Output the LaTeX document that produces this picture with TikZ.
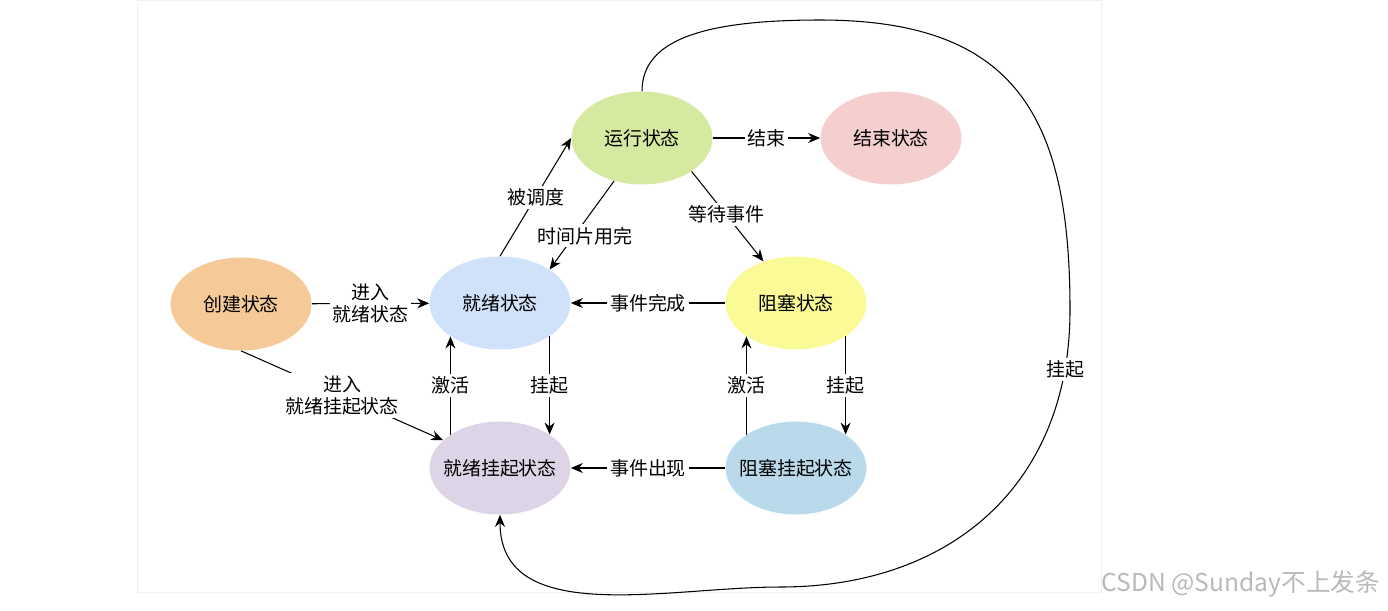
\documentclass[tikz,border=0pt]{standalone}
\usepackage{fontspec}
\setmainfont{Noto Sans CJK SC}
\usetikzlibrary{arrows.meta,positioning,shapes.geometric}
\definecolor{newcolor}{RGB}{245,202,152}
\definecolor{runcolor}{RGB}{214,233,160}
\definecolor{donecolor}{RGB}{245,206,206}
\definecolor{rdycolor}{RGB}{207,226,250}
\definecolor{blkcolor}{RGB}{250,250,150}
\definecolor{rsuscolor}{RGB}{221,213,231}
\definecolor{bsuscolor}{RGB}{186,218,236}
\newcommand{\stname}[1]{\makebox[0pt]{#1}}

\begin{document}
\begin{tikzpicture}[x=0.02cm, y=0.02cm,
  state/.style={ellipse, minimum width=2.82cm, minimum height=1.86cm, inner sep=0pt,
    font=\fontsize{10.8}{13}\selectfont},
  lbl/.style={fill=white, inner sep=1.5pt, align=center,
    font=\fontsize{10.8}{13}\selectfont},
  trans/.style={-{Stealth[length=2.4mm,width=2mm]}, line width=0.6pt}]
  % 1px = 0.02cm, y runs downwards as negative numbers
  \useasboundingbox (0,0) rectangle (1388,-610);

  % faint frame
  \draw[gray!12, thin] (137,0) rectangle (1101,-592);

  % States
  \node[state, fill=runcolor]  (run)  at (642,-138) {\stname{运行状态}};
  \node[state, fill=donecolor] (done) at (891,-138) {\stname{结束状态}};
  \node[state, fill=newcolor]  (new)  at (241,-304) {\stname{创建状态}};
  \node[state, fill=rdycolor]  (rdy)  at (500,-303) {\stname{就绪状态}};
  \node[state, fill=blkcolor]  (blk)  at (796,-303) {\stname{阻塞状态}};
  \node[state, fill=rsuscolor] (rsus) at (500,-468) {\stname{就绪挂起状态}};
  \node[state, fill=bsuscolor] (bsus) at (796,-468) {\stname{阻塞挂起状态}};

  % Transitions
  \draw[trans] (run) -- node[lbl] {结束} (done);
  \draw[trans] (rdy.north) -- node[lbl] {被调度} (run.west);
  \draw[trans] (run.237) -- node[lbl, pos=0.62, xshift=6pt] {时间片用完} (rdy.34);
  \draw[trans] (run.-34) -- node[lbl, pos=0.48] {等待事件} (blk.128);
  \draw[trans] (blk) -- node[lbl] {事件完成} (rdy);
  \draw[trans] (new) -- node[lbl] {进入\\就绪状态} (rdy);
  \draw[trans] (new.south) -- node[lbl] {进入\\就绪挂起状态} (rsus.154);
  \draw[trans] (rsus.146) -- node[lbl] {激活} (rdy.214);
  \draw[trans] (rdy.-34) -- node[lbl] {挂起} (rsus.34);
  \draw[trans] (bsus.146) -- node[lbl] {激活} (blk.214);
  \draw[trans] (blk.-34) -- node[lbl] {挂起} (bsus.34);
  \draw[trans] (bsus) -- node[lbl] {事件出现} (rsus);

  % long way round: running -> ready suspended
  \draw[trans] (run.north) .. controls +(0,50) and +(-120,0) .. (820,-20)
    to[out=0, in=90, looseness=1.3] (1070,-310)
    to[out=-90, in=0, looseness=1.1] node[lbl, pos=0.12] {挂起} (780,-587)
    to[out=180, in=-90] (rsus.south);

  % watermark
  \node[gray!55, anchor=east, font=\fontsize{14}{16}\selectfont] (mark) at (1386,-584) {CSDN @Sunday不上发条};
\end{tikzpicture}
\end{document}
